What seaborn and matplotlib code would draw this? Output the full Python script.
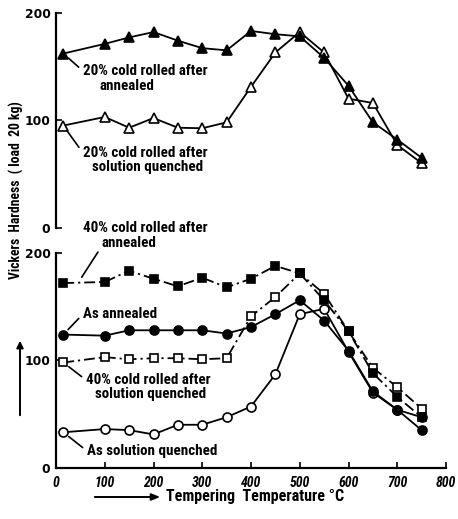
import matplotlib
matplotlib.use("Agg")
import matplotlib.pyplot as plt
import seaborn as sns
from matplotlib.font_manager import fontManager

# ---------------- data ----------------
temps = [15, 100, 150, 200, 250, 300, 350, 400, 450, 500, 550, 600, 650, 700, 750]

cr20_annealed = [162, 171, 177, 182, 174, 167, 165, 183, 180, 178, 158, 132, 98, 82, 65]
cr20_sol_quenched = [95, 103, 93, 102, 93, 92.5, 98, 131, 163, 182, 163, 120, 116, 77, 60]

cr40_annealed = [172, 173, 183.5, 176, 169, 177, 168, 176, 188, 181, 156, 127, 88, 66, 47]
as_annealed = [124, 123, 128, 128, 128, 128, 125, 131, 143, 156, 137, 109, 71, 54, 35]
cr40_sol_quenched = [98, 103, 101, 102, 102, 101, 102, 141, 159, 181, 162, 127, 93, 75, 55]
as_sol_quenched = [33, 36, 35, 31, 40, 40, 47, 57, 87, 143, 148, 108, 70, 54, 47]

x_ticks = [0, 100, 200, 300, 400, 500, 600, 700, 800]
y_ticks = [0, 100, 200]

# ---------------- style ----------------
sns.set_theme(style="ticks")
names = {f.name for f in fontManager.ttflist}
text_family = "DejaVu Sans"
for cand in ("Roboto Condensed", "Liberation Sans Narrow", "Lato"):
    if cand in names:
        text_family = cand
        break
plt.rcParams["font.family"] = [text_family, "DejaVu Sans"]

W, H = 458, 519
fig = plt.figure(figsize=(W / 100, H / 100), dpi=100)
fig.patch.set_facecolor("white")


def fx(px):
    return px / W


def fy(py):
    return 1 - py / H


left = fx(56)
width = (446 - 56) / W
ax_top = fig.add_axes([left, fy(227.7), width, (227.7 - 12.7) / H])
ax_bot = fig.add_axes([left, fy(467.7), width, (467.7 - 253) / H])

solid = "-"
dashdot = (0, (6, 2.2, 1.2, 2.2))


def draw(ax, vals, marker, filled, ls, ms):
    sns.lineplot(
        x=temps, y=vals, ax=ax, color="black", linewidth=1.3, linestyle=ls,
        marker=marker, markersize=ms,
        markerfacecolor="black" if filled else "white",
        markeredgecolor="black", markeredgewidth=1.2,
        clip_on=False, errorbar=None, sort=False, legend=False,
    )


draw(ax_top, cr20_sol_quenched, "^", False, solid, 7.5)
draw(ax_top, cr20_annealed, "^", True, solid, 7.5)

draw(ax_bot, as_sol_quenched, "o", False, solid, 6.5)
draw(ax_bot, cr40_sol_quenched, "s", False, dashdot, 5.8)
draw(ax_bot, as_annealed, "o", True, solid, 6.5)
draw(ax_bot, cr40_annealed, "s", True, dashdot, 5.8)

tick_font = dict(fontfamily="DejaVu Sans", fontweight="bold", fontsize=8.8)

for ax in (ax_top, ax_bot):
    ax.set_xlim(0, 800)
    ax.set_ylim(0, 200)
    ax.set_facecolor("white")
    for s in ("top", "right"):
        ax.spines[s].set_visible(False)
    ax.spines["left"].set_linewidth(1.6)
    ax.spines["left"].set_color("black")
    ax.set_yticks(y_ticks)
    ax.set_yticklabels([str(v) for v in y_ticks], **tick_font)
    ax.tick_params(axis="y", direction="in", length=4, width=1.2, colors="black", pad=4)
    ax.set_xlabel("")
    ax.set_ylabel("")

ax_top.spines["bottom"].set_visible(False)
ax_top.set_xticks([])

ax_bot.spines["bottom"].set_linewidth(1.6)
ax_bot.spines["bottom"].set_color("black")
ax_bot.set_xticks(x_ticks)
ax_bot.set_xticklabels([str(v) for v in x_ticks], fontstyle="italic",
                       fontfamily=[text_family, "DejaVu Sans"], fontweight="bold",
                       fontsize=10)
ax_bot.tick_params(axis="x", direction="in", length=4, width=1.2, colors="black", pad=6)

# ---------------- annotations ----------------
txt = dict(fontsize=10.8, color="black", fontweight="bold")
lead = dict(arrowstyle="-", color="black", lw=1.2, shrinkA=1, shrinkB=5)


def note(ax, text, xy, px, py, relpos=(0, 0.5)):
    ax.annotate(text, xy=xy, xycoords="data", xytext=(fx(px), fy(py)),
                textcoords="figure fraction", ha="left", va="center",
                arrowprops=dict(relpos=relpos, **lead), **txt)


def label(text, px, py):
    fig.text(fx(px), fy(py), text, ha="left", va="center", **txt)


note(ax_top, "20% cold rolled after", (temps[0], cr20_annealed[0]), 83, 71)
label("annealed", 99, 86)
note(ax_top, "20% cold rolled after", (temps[0], cr20_sol_quenched[0]), 83, 153)
label("solution quenched", 92, 167)

label("40% cold rolled after", 83, 228)
note(ax_bot, "annealed", (45, cr40_annealed[0]), 102, 243, relpos=(0, 0.3))
note(ax_bot, "As annealed", (temps[0], as_annealed[0]), 83, 314)
note(ax_bot, "40% cold rolled after", (temps[0], cr40_sol_quenched[0]), 86, 380)
label("solution quenched", 95, 394)
note(ax_bot, "As solution quenched", (temps[0], as_sol_quenched[0]), 87, 451)

# axis titles with hand-drawn style arrows
fig.text(fx(16), fy(190), "Vickers  Hardness  ( load  20 kg)", rotation=90,
         ha="center", va="center", color="black", fontweight="bold", fontsize=9.8)
fig.add_artist(matplotlib.patches.FancyArrowPatch(
    (fx(20), fy(418)), (fx(20), fy(338)), transform=fig.transFigure,
    arrowstyle="-|>,head_length=4,head_width=2", color="black", lw=1.4))

fig.add_artist(matplotlib.patches.FancyArrowPatch(
    (fx(92), fy(497)), (fx(163), fy(497)), transform=fig.transFigure,
    arrowstyle="-|>,head_length=5,head_width=2", color="black", lw=1.4))
fig.text(fx(166), fy(497), "Tempering  Temperature °C", ha="left", va="center",
         color="black", fontweight="bold", fontsize=11.5)

fig.savefig("out.png", dpi=100, facecolor="white")
